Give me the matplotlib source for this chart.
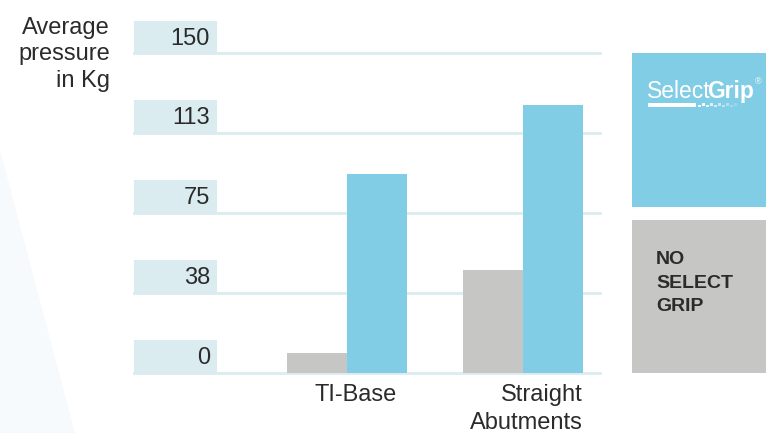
import matplotlib.pyplot as plt
from matplotlib.patches import Rectangle, Polygon
import numpy as np

plt.rcParams['font.family'] = ['Liberation Sans', 'DejaVu Sans']

categories = ['TI-Base', 'Straight\nAbutments']
no_select_grip = [9.0, 48.2]
select_grip = [93.3, 125.8]
tick_values = [0, 37.5, 75, 112.5, 150]
tick_labels = ['0', '38', '75', '113', '150']

W, H = 766, 433
fig = plt.figure(figsize=(W / 100, H / 100), dpi=100)

# faint background wedge on the left
fig.patches.append(Polygon([(0, 1 - 150 / H), (75 / W, 0), (0, 0)], closed=True,
                           transform=fig.transFigure, facecolor='#f6fafc',
                           edgecolor='none', zorder=0))

# axes area in pixel terms: x 134..600, y 53.5..372.5
ax = fig.add_axes([134 / W, (H - 372.5) / H, 466 / W, 319 / H])
ax.set_ylim(0, 150)
px_unit = 176.0  # pixels per category step
ax.set_xlim((134 - 347) / px_unit, (600 - 347) / px_unit)
ax.axis('off')

grid_col = '#dcebf0'
box_col = '#dbecf1'
blue = '#82cde6'
grey = '#c6c6c5'
txt = '#2b2b2b'

x0 = ax.get_xlim()[0]
for v, lab in zip(tick_values, tick_labels):
    ax.axhline(v, color=grid_col, lw=2, zorder=1, clip_on=False)
    ax.add_patch(Rectangle((x0, v), 83 / px_unit, 15.5, facecolor=box_col,
                           edgecolor='none', zorder=1, clip_on=False))
    ax.text(x0 + 76 / px_unit, v + 7.0, lab, ha='right', va='center',
            fontsize=17, color=txt, zorder=3, clip_on=False)

x = np.arange(len(categories))
bw = 60 / px_unit
ax.bar(x - bw / 2, no_select_grip, width=bw, color=grey, zorder=2)
ax.bar(x + bw / 2, select_grip, width=bw, color=blue, zorder=2)

# category labels are right-aligned near the blue bar's right edge
label_right = [50 / px_unit, 60 / px_unit]
for xi, cat, off in zip(x, categories, label_right):
    ax.text(xi + off, -5.3, cat, ha='right', va='top', fontsize=17,
            color=txt, linespacing=1.35, clip_on=False)

fig.text(110 / W, 1 - 17 / H, 'Average\npressure\nin Kg', ha='right', va='top',
         fontsize=17, color=txt, linespacing=1.25)

# legend boxes
fig.patches.append(Rectangle((632 / W, 1 - 207 / H), 134 / W, 154 / H,
                             transform=fig.transFigure, facecolor=blue,
                             edgecolor='none'))
fig.patches.append(Rectangle((632 / W, 1 - 373 / H), 134 / W, 153 / H,
                             transform=fig.transFigure, facecolor=grey,
                             edgecolor='none'))

t1 = fig.text(647 / W, 1 - 98 / H, 'Select', ha='left', va='baseline',
              fontsize=16.5, color='white')
fig.canvas.draw()
renderer = fig.canvas.get_renderer()
bb = t1.get_window_extent(renderer=renderer)
t2 = fig.text((bb.x1 - 3) / W, 1 - 98 / H, 'Grip', ha='left', va='baseline',
              fontsize=16.5, color='white', fontweight='bold')
bb2 = t2.get_window_extent(renderer=renderer)
fig.text((bb2.x1 + 0.5) / W, 1 - 84 / H, '®', ha='left', va='baseline',
         fontsize=6.5, color='white')
fig.patches.append(Rectangle((648 / W, 1 - 107 / H), 48 / W, 4 / H,
                             transform=fig.transFigure, facecolor='white',
                             edgecolor='none'))
for i in range(10):
    fig.patches.append(Rectangle(((698 + i * 4) / W, 1 - (107 - (i % 2) * 1.5) / H), 2.5 / W, 2.5 / H,
                                 transform=fig.transFigure, facecolor='white',
                                 edgecolor='none', alpha=max(0.15, 1 - i * 0.09)))

fig.text(656 / W, 1 - 251 / H, 'NO\nSELECT\nGRIP', ha='left', va='top',
         fontsize=14, fontweight='bold', color=txt, linespacing=1.5)

fig.savefig('out.png', dpi=100)
